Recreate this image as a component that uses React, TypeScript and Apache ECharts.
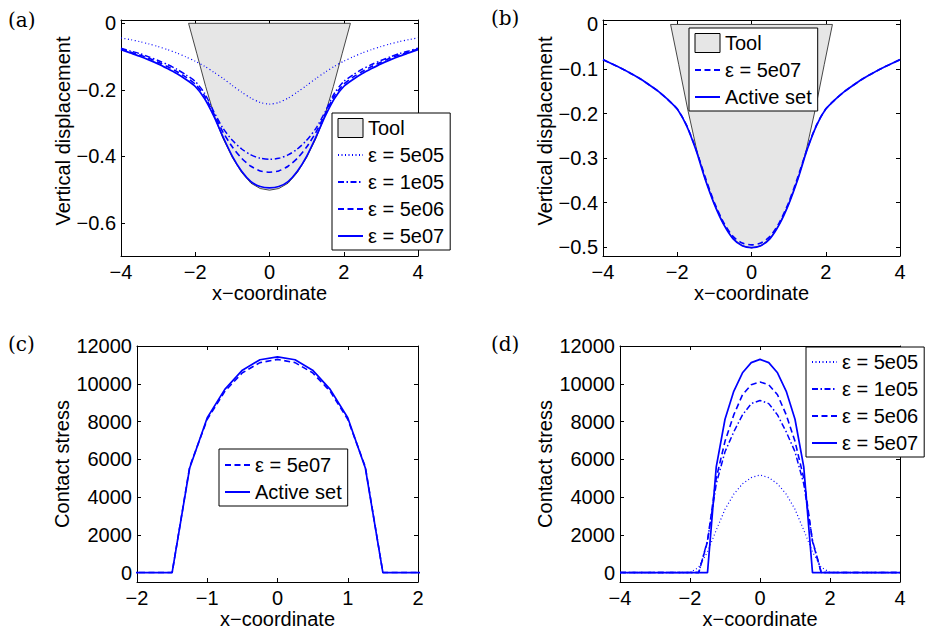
import React, { useEffect, useRef } from 'react';
import * as echarts from 'echarts';

const FONT = '"Liberation Sans", Arial, Helvetica, sans-serif';
const SERIF = '"DejaVu Serif", "Liberation Serif", serif';
const BLUE = '#0000ff';

// ---- Panels (a)/(b): vertical displacement ----
const dispX = [-4, -3.75, -3.5, -3.25, -3, -2.75, -2.5, -2.25, -2, -1.75, -1.5, -1.25, -1, -0.75, -0.5, -0.25, 0,
  0.25, 0.5, 0.75, 1, 1.25, 1.5, 1.75, 2, 2.25, 2.5, 2.75, 3, 3.25, 3.5, 3.75, 4];
const disp5e05 = [-0.044, -0.049, -0.055, -0.062, -0.070, -0.079, -0.089, -0.101, -0.114, -0.129, -0.147, -0.166, -0.187, -0.207, -0.225, -0.238, -0.243,
  -0.238, -0.225, -0.207, -0.187, -0.166, -0.147, -0.129, -0.114, -0.101, -0.089, -0.079, -0.070, -0.062, -0.055, -0.049, -0.044];
const disp1e05 = [-0.075, -0.083, -0.091, -0.101, -0.112, -0.124, -0.138, -0.155, -0.175, -0.210, -0.266, -0.316, -0.352, -0.378, -0.396, -0.406, -0.409,
  -0.406, -0.396, -0.378, -0.352, -0.316, -0.266, -0.210, -0.175, -0.155, -0.138, -0.124, -0.112, -0.101, -0.091, -0.083, -0.075];
const disp5e06 = [-0.077, -0.086, -0.095, -0.105, -0.117, -0.130, -0.145, -0.162, -0.183, -0.218, -0.272, -0.328, -0.372, -0.406, -0.430, -0.444, -0.448,
  -0.444, -0.430, -0.406, -0.372, -0.328, -0.272, -0.218, -0.183, -0.162, -0.145, -0.130, -0.117, -0.105, -0.095, -0.086, -0.077];
const disp5e07 = [-0.079, -0.089, -0.099, -0.110, -0.122, -0.136, -0.151, -0.169, -0.190, -0.226, -0.279, -0.342, -0.400, -0.445, -0.476, -0.491, -0.495,
  -0.491, -0.476, -0.445, -0.400, -0.342, -0.279, -0.226, -0.190, -0.169, -0.151, -0.136, -0.122, -0.110, -0.099, -0.089, -0.079];
const dispActive = [-0.079, -0.089, -0.099, -0.110, -0.122, -0.136, -0.151, -0.169, -0.190, -0.227, -0.281, -0.347, -0.404, -0.449, -0.481, -0.497, -0.501,
  -0.497, -0.481, -0.449, -0.404, -0.347, -0.281, -0.227, -0.190, -0.169, -0.151, -0.136, -0.122, -0.110, -0.099, -0.089, -0.079];

// Tool outline
const toolX = [-2.18, -1.96, -1.72, -1.47, -1.25, -1, -0.75, -0.5, -0.25, 0, 0.25, 0.5, 0.75, 1, 1.25, 1.47, 1.72, 1.96, 2.18];
const toolY = [0, -0.09, -0.19, -0.284, -0.347, -0.404, -0.449, -0.481, -0.497, -0.502, -0.497, -0.481, -0.449, -0.404, -0.347, -0.284, -0.19, -0.09, 0];

// ---- Panels (c)/(d): contact stress ----
const stressX = [-4, -2, -1.75, -1.5, -1.25, -1, -0.75, -0.5, -0.25, 0, 0.25, 0.5, 0.75, 1, 1.25, 1.5, 1.75, 2, 4];
const stress5e05 = [0, 0, 280, 1100, 2250, 3350, 4150, 4700, 5030, 5170, 5030, 4700, 4150, 3350, 2250, 1100, 280, 0, 0];
const stress1e05 = [0, 0, 0, 1700, 4700, 6400, 7450, 8350, 8950, 9115, 8950, 8350, 7450, 6400, 4700, 1700, 0, 0, 0];
const stress5e06 = [0, 0, 0, 1650, 5000, 6950, 8350, 9420, 9950, 10090, 9950, 9420, 8350, 6950, 5000, 1650, 0, 0, 0];
const stress5e07 = [0, 0, 0, 0, 5600, 8120, 9600, 10580, 11120, 11290, 11120, 10580, 9600, 8120, 5600, 0, 0, 0, 0];
const stressActive = [0, 0, 0, 0, 5540, 8200, 9700, 10720, 11270, 11420, 11270, 10720, 9700, 8200, 5540, 0, 0, 0, 0];

// ---- Tick values and labels ----
const xTicksWide = { min: -4, max: 4, interval: 2 };
const xTicksNarrow = { min: -2, max: 2, interval: 1 };
const yTicksA = [-0.6, -0.4, -0.2, 0];
const yTicksB = [-0.5, -0.4, -0.3, -0.2, -0.1, 0];
const yTicksStress = [0, 2000, 4000, 6000, 8000, 10000, 12000];

const NAME_5E05 = 'ε = 5e05';
const NAME_1E05 = 'ε = 1e05';
const NAME_5E06 = 'ε = 5e06';
const NAME_5E07 = 'ε = 5e07';
const NAME_TOOL = 'Tool';
const NAME_ACTIVE = 'Active set';
const X_NAME = 'x−coordinate';
const Y_NAME_DISP = 'Vertical displacement';
const Y_NAME_STRESS = 'Contact stress';
const PANEL_LABELS = ['(a)', '(b)', '(c)', '(d)'];

const fmt = (v: number) => {
  const r = Math.round(v * 1000) / 1000;
  return r < 0 ? '−' + String(-r) : String(r);
};

const STY = {
  dotted: { color: BLUE, width: 1.2, type: [1, 2.5] },
  dashdot: { color: BLUE, width: 1.5, type: [6, 2.5, 1.5, 2.5] },
  dashed: { color: BLUE, width: 1.6, type: [6, 3.5] },
  solid: { color: BLUE, width: 1.7, type: 'solid' },
};

const GRIDS = [
  { left: 121, top: 20, width: 297, height: 236 },
  { left: 603, top: 20, width: 297, height: 236 },
  { left: 137, top: 346, width: 281, height: 236 },
  { left: 620, top: 346, width: 280, height: 236 },
];

const axisLine = { show: true, onZero: false, lineStyle: { color: '#000', width: 1 } };
const textBase = { color: '#000', fontSize: 20, fontFamily: FONT };

function xAxes(gi: number, t: { min: number; max: number; interval: number }) {
  const common = {
    type: 'value', gridIndex: gi, min: t.min, max: t.max, interval: t.interval,
    splitLine: { show: false }, axisLine,
    axisTick: { show: true, inside: true, length: 4, lineStyle: { color: '#000', width: 1 } },
  };
  return [
    {
      ...common, position: 'bottom',
      axisLabel: { ...textBase, show: true, margin: 6, formatter: fmt, showMinLabel: true, showMaxLabel: true },
      name: X_NAME, nameLocation: 'middle', nameGap: 24, nameTextStyle: { ...textBase },
    },
    { ...common, position: 'top', axisLabel: { show: false } },
  ];
}

function yAxes(gi: number, min: number, max: number, ticks: number[], name: string, gap: number, pad: number[]) {
  const common = {
    type: 'value', gridIndex: gi, min, max,
    splitLine: { show: false }, axisLine,
    axisTick: { show: true, inside: true, length: 4, customValues: ticks, lineStyle: { color: '#000', width: 1 } },
  };
  return [
    {
      ...common, position: 'left',
      axisLabel: { ...textBase, show: true, margin: 5, customValues: ticks, formatter: fmt },
      name, nameLocation: 'middle', nameGap: gap, nameRotate: 90,
      nameTextStyle: { ...textBase, padding: pad },
    },
    { ...common, position: 'right', axisLabel: { show: false } },
  ];
}

function line(prefix: string, gi: number, name: string, xs: number[], ys: number[], style: any, smooth: number | boolean) {
  return {
    type: 'line', name: prefix + '|' + name, xAxisIndex: gi * 2, yAxisIndex: gi * 2,
    data: xs.map((x, i) => [x, ys[i]]),
    symbol: 'none', showSymbol: false, smooth,
    lineStyle: style, itemStyle: { color: BLUE }, z: 3, silent: true, clip: true,
  };
}

function tool(prefix: string, gi: number) {
  return {
    type: 'custom', name: prefix + '|' + NAME_TOOL, xAxisIndex: gi * 2, yAxisIndex: gi * 2,
    data: toolX.map((x, i) => [x, toolY[i]]),
    itemStyle: { color: '#e6e6e6', borderColor: '#000', borderWidth: 1 },
    z: 1, silent: true,
    renderItem: (params: any, api: any) => {
      if (params.dataIndex !== 0) return null;
      const pts = toolX.map((x, i) => api.coord([x, toolY[i]]));
      return {
        type: 'polygon', shape: { points: pts },
        style: { fill: '#e6e6e6', stroke: '#1a1a1a', lineWidth: 0.8 },
      };
    },
  };
}

function legend(prefix: string, left: number, top: number, names: string[], pad: number[]) {
  return {
    orient: 'vertical', left, top, padding: pad,
    itemWidth: 25, itemHeight: 19, itemGap: 7,
    backgroundColor: '#fff', borderColor: '#000', borderWidth: 1, borderRadius: 0,
    textStyle: { ...textBase, lineHeight: 20 },
    itemStyle: { opacity: 0 },
    selectedMode: false, z: 10,
    formatter: (n: string) => n.split('|')[1],
    data: names.map((n) =>
      n === NAME_TOOL
        ? { name: prefix + '|' + n, icon: 'rect', itemStyle: { color: '#e6e6e6', borderColor: '#000', borderWidth: 1, opacity: 1 } }
        : { name: prefix + '|' + n }
    ),
  };
}

function buildOption() {
  const SM = 0.25;
  const labelStyle = { font: `20px ${SERIF}`, fill: '#000', verticalAlign: 'middle' };
  return {
    animation: false,
    backgroundColor: '#fff',
    grid: GRIDS.map((g) => ({ ...g, containLabel: false })),
    xAxis: [...xAxes(0, xTicksWide), ...xAxes(1, xTicksWide), ...xAxes(2, xTicksNarrow), ...xAxes(3, xTicksWide)],
    yAxis: [
      ...yAxes(0, -0.7, 0.01, yTicksA, Y_NAME_DISP, 47, [0, 0, 0, 14]),
      ...yAxes(1, -0.52, 0.01, yTicksB, Y_NAME_DISP, 47, [0, 0, 0, 14]),
      ...yAxes(2, -500, 12000, yTicksStress, Y_NAME_STRESS, 65, [0, 0, 0, 0]),
      ...yAxes(3, -500, 12000, yTicksStress, Y_NAME_STRESS, 65, [0, 0, 0, 0]),
    ],
    legend: [
      legend('a', 332, 113, [NAME_TOOL, NAME_5E05, NAME_1E05, NAME_5E06, NAME_5E07], [5, 6, 4, 5]),
      legend('b', 689, 28, [NAME_TOOL, NAME_5E07, NAME_ACTIVE], [5, 6, 4, 5]),
      legend('c', 219, 449, [NAME_5E07, NAME_ACTIVE], [6, 6, 4, 5]),
      legend('d', 806, 347, [NAME_5E05, NAME_1E05, NAME_5E06, NAME_5E07], [5, 6, 4, 5]),
    ],
    graphic: [
      { type: 'text', x: 8, y: 20, style: { ...labelStyle, text: PANEL_LABELS[0] } },
      { type: 'text', x: 491, y: 18, style: { ...labelStyle, text: PANEL_LABELS[1] } },
      { type: 'text', x: 8, y: 344, style: { ...labelStyle, text: PANEL_LABELS[2] } },
      { type: 'text', x: 491, y: 344, style: { ...labelStyle, text: PANEL_LABELS[3] } },
    ],
    series: [
      tool('a', 0),
      line('a', 0, NAME_5E05, dispX, disp5e05, STY.dotted, SM),
      line('a', 0, NAME_1E05, dispX, disp1e05, STY.dashdot, SM),
      line('a', 0, NAME_5E06, dispX, disp5e06, STY.dashed, SM),
      line('a', 0, NAME_5E07, dispX, disp5e07, STY.solid, SM),
      tool('b', 1),
      line('b', 1, NAME_5E07, dispX, disp5e07, STY.dashed, SM),
      line('b', 1, NAME_ACTIVE, dispX, dispActive, STY.solid, SM),
      line('c', 2, NAME_5E07, stressX, stress5e07, STY.dashed, false),
      line('c', 2, NAME_ACTIVE, stressX, stressActive, STY.solid, false),
      line('d', 3, NAME_5E05, stressX, stress5e05, STY.dotted, false),
      line('d', 3, NAME_1E05, stressX, stress1e05, STY.dashdot, false),
      line('d', 3, NAME_5E06, stressX, stress5e06, STY.dashed, false),
      line('d', 3, NAME_5E07, stressX, stress5e07, STY.solid, false),
    ],
  };
}

export default function App() {
  const ref = useRef<HTMLDivElement>(null);
  useEffect(() => {
    if (!ref.current) return;
    const chart = echarts.init(ref.current, null, { renderer: 'svg', width: 925, height: 630 });
    chart.setOption(buildOption() as any);
    return () => chart.dispose();
  }, []);
  return (
    <div
      ref={ref}
      style={{ position: 'absolute', left: 0, top: 0, width: 925, height: 630, background: '#fff' }}
    />
  );
}
